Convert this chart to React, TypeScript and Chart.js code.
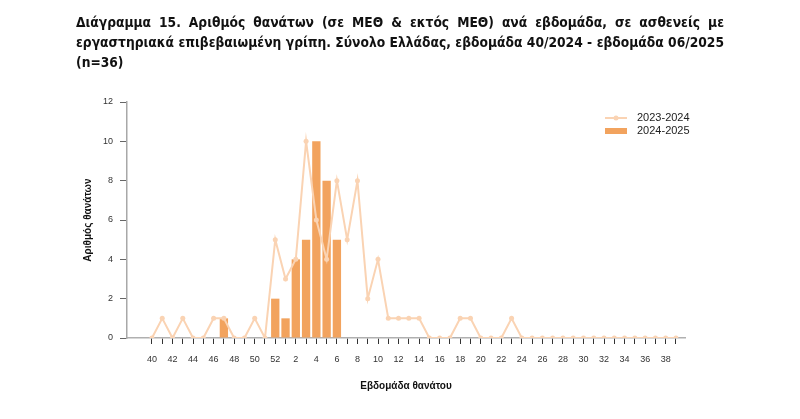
import React, { useEffect, useRef } from "react";
import { Chart, registerables } from "chart.js";

Chart.register(...registerables);

const weeks: string[] = [
  "40", "41", "42", "43", "44", "45", "46", "47", "48", "49", "50", "51", "52",
  "1", "2", "3", "4", "5", "6", "7", "8", "9", "10", "11", "12", "13", "14", "15", "16", "17", "18", "19", "20",
  "21", "22", "23", "24", "25", "26", "27", "28", "29", "30", "31", "32", "33", "34", "35", "36", "37", "38", "39",
];

// 2023-2024 season (line)
const season2324: number[] = [
  0, 1, 0, 1, 0, 0, 1, 1, 0, 0, 1, 0, 5,
  3, 4, 10, 6, 4, 8, 5, 8, 2, 4, 1, 1, 1, 1, 0, 0, 0, 1, 1, 0,
  0, 0, 1, 0, 0, 0, 0, 0, 0, 0, 0, 0, 0, 0, 0, 0, 0, 0, 0,
];

// 2024-2025 season (bars), week 40/2024 - week 06/2025
const season2425: number[] = [
  0, 0, 0, 0, 0, 0, 0, 1, 0, 0, 0, 0, 2,
  1, 4, 5, 10, 8, 5,
];

const yTicks: number[] = [0, 2, 4, 6, 8, 10, 12];

const seriesLabels: string[] = ["2023-2024", "2024-2025"];

const titleLines: string[] = [
  "Διάγραμμα 15. Αριθμός θανάτων (σε ΜΕΘ & εκτός ΜΕΘ) ανά εβδομάδα, σε ασθενείς με",
  "εργαστηριακά επιβεβαιωμένη γρίπη. Σύνολο Ελλάδας, εβδομάδα 40/2024 - εβδομάδα 06/2025",
  "(n=36)",
];

const LINE_COLOR = "#FAD3B3";
const BAR_COLOR = "#F2A35E";
const FONT = "Arial, 'Liberation Sans', sans-serif";

const legendPlugin = {
  id: "customLegend",
  afterDraw(chart: any) {
    const { ctx, chartArea } = chart;
    const x0 = chartArea.right - 80;
    const x1 = chartArea.right - 58;
    const tx = chartArea.right - 48;
    const y1 = chartArea.top + 16;
    const y2 = chartArea.top + 29;
    ctx.save();
    ctx.strokeStyle = LINE_COLOR;
    ctx.lineWidth = 2;
    ctx.beginPath();
    ctx.moveTo(x0, y1);
    ctx.lineTo(x1, y1);
    ctx.stroke();
    ctx.fillStyle = LINE_COLOR;
    ctx.beginPath();
    ctx.arc((x0 + x1) / 2, y1, 2.5, 0, Math.PI * 2);
    ctx.fill();
    ctx.fillStyle = BAR_COLOR;
    ctx.fillRect(x0, y2 - 3, x1 - x0, 6);
    ctx.fillStyle = "#222";
    ctx.font = `11px ${FONT}`;
    ctx.textBaseline = "middle";
    ctx.textAlign = "left";
    ctx.fillText(chart.data.datasets[0].label, tx, y1);
    ctx.fillText(chart.data.datasets[1].label, tx, y2);
    ctx.restore();
  },
};

export default function App() {
  const canvasRef = useRef<HTMLCanvasElement | null>(null);

  useEffect(() => {
    if (!canvasRef.current) return;
    const chart = new Chart(canvasRef.current, {
      type: "bar",
      data: {
        datasets: [
          {
            type: "line",
            label: seriesLabels[0],
            data: season2324.map((v, i) => ({ x: i, y: v })),
            borderColor: LINE_COLOR,
            backgroundColor: LINE_COLOR,
            borderWidth: 2,
            pointRadius: 2.5,
            pointBackgroundColor: LINE_COLOR,
            pointBorderWidth: 0,
            tension: 0,
          } as any,
          {
            type: "bar",
            label: seriesLabels[1],
            data: season2425.map((v, i) => ({ x: i, y: v })),
            backgroundColor: BAR_COLOR,
            borderWidth: 0,
            categoryPercentage: 1,
            barPercentage: 0.81,
          },
        ],
      },
      options: {
        animation: false,
        responsive: false,
        maintainAspectRatio: false,
        layout: { padding: { left: 70, right: 107, top: 94, bottom: 15 } },
        plugins: {
          legend: { display: false },
          tooltip: { enabled: false },
        },
        scales: {
          x: {
            type: "linear",
            offset: false,
            min: -2.43,
            max: 51.88,
            afterBuildTicks: (scale: any) => {
              scale.ticks = weeks.map((_, i) => ({ value: i }));
            },
            afterFit: (scale: any) => {
              scale.height = 58;
            },
            ticks: {
              autoSkip: false,
              maxRotation: 0,
              padding: 10,
              color: "#333",
              font: { size: 9, family: FONT },
              callback: (value: any) => {
                const i = Math.round(Number(value));
                return i % 2 === 0 ? weeks[i] : "";
              },
            },
            grid: {
              offset: false,
              drawOnChartArea: false,
              drawTicks: true,
              tickLength: 6,
              tickColor: "#333",
            },
            border: { display: true, color: "#b0b0b0", width: 1.5 },
            title: {
              display: true,
              text: "Εβδομάδα θανάτου",
              color: "#111",
              font: { size: 10, weight: "bold", family: FONT },
              padding: { top: 4, bottom: 4 },
            },
          },
          y: {
            min: 0,
            max: 12,
            afterBuildTicks: (scale: any) => {
              scale.ticks = yTicks.map((v) => ({ value: v }));
            },
            afterFit: (scale: any) => {
              scale.width = 49;
            },
            ticks: {
              padding: 7,
              color: "#333",
              font: { size: 9, family: FONT },
            },
            grid: {
              drawOnChartArea: false,
              drawTicks: true,
              tickLength: 7,
              tickColor: "#666",
            },
            border: { display: true, color: "#a8a8a8", width: 1.5 },
            title: {
              display: true,
              text: "Αριθμός θανάτων",
              color: "#111",
              font: { size: 10, weight: "bold", family: FONT },
              padding: { top: 4, bottom: 4 },
            },
          },
        },
      },
      plugins: [legendPlugin],
    });
    return () => chart.destroy();
  }, []);

  return (
    <div style={{ position: "relative", width: 784, height: 403 }}>
      <canvas ref={canvasRef} width={784} height={403} style={{ position: "absolute", left: 0, top: 0, width: 784, height: 403 }} />
      <div
        style={{
          position: "absolute",
          left: 68,
          top: 4,
          width: 648,
          fontFamily: "'Liberation Sans Narrow', 'DejaVu Sans Condensed', 'Arial Narrow', sans-serif",
          fontWeight: "bold",
          fontSize: 13.7,
          lineHeight: "20px",
          color: "#111",
        }}
      >
        {titleLines.map((t, i) => (
          <div
            key={i}
            style={{
              whiteSpace: "nowrap",
              textAlign: i < titleLines.length - 1 ? "justify" : "left",
              textAlignLast: i < titleLines.length - 1 ? "justify" : "left",
            }}
          >
            {t}
          </div>
        ))}
      </div>
    </div>
  );
}
